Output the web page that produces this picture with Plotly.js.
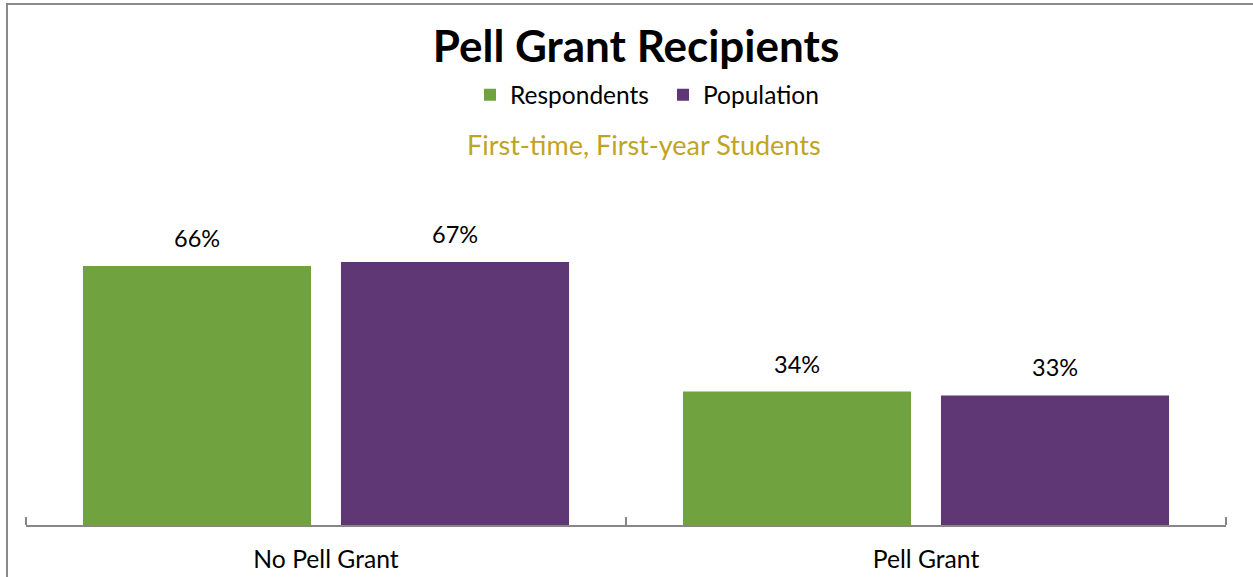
<!DOCTYPE html>
<html>
<head>
<meta charset="utf-8">
<script src="https://cdn.plot.ly/plotly-3.0.1.min.js"></script>
<style>
  html, body { margin: 0; padding: 0; background: #fff; }
  #wrap { position: relative; width: 1253px; height: 577px; overflow: hidden; }
  #chart { position: absolute; left: 0; top: 0; width: 1253px; height: 577px; }
  #frame { position: absolute; left: 6px; top: 3px; width: 1300px; height: 600px;
           border-left: 2px solid #8a8a8a; border-top: 2px solid #8a8a8a; pointer-events: none; }
</style>
</head>
<body>
<div id="wrap">
  <div id="chart"></div>
  <div id="frame"></div>
</div>
<script>
const categories = ["No Pell Grant", "Pell Grant"];
const respondents = [66, 34];
const population = [67, 33];
const seriesNames = ["Respondents", "Population"];
const colors = ["#70A33F", "#5E3774"];
const FONT = "Lato, 'Open Sans', sans-serif";

const traces = [
  { type: "bar", name: seriesNames[0], x: categories, y: respondents,
    marker: { color: colors[0] }, hoverinfo: "none" },
  { type: "bar", name: seriesNames[1], x: categories, y: population,
    marker: { color: colors[1] }, hoverinfo: "none" }
];

const annotations = [];
[respondents, population].forEach((vals, s) => {
  vals.forEach((v, i) => {
    annotations.push({
      x: categories[i], y: v, xref: "x", yref: "y",
      xshift: s === 0 ? -129 : 129, yshift: 12,
      yanchor: "bottom", showarrow: false,
      text: v + "%", font: { family: FONT, size: 23.5, color: "#000" }
    });
  });
});
annotations.push({
  x: 0.515, y: 1.213, xref: "paper", yref: "paper", showarrow: false,
  yanchor: "middle", text: "First-time, First-year Students",
  font: { family: FONT, size: 27, color: "#BFA51F" }
});

const edgeTick = (xp) => ({
  type: "line", xref: "paper", yref: "paper", x0: xp, x1: xp,
  ysizemode: "pixel", yanchor: 0, y0: 0, y1: 8,
  line: { color: "#878787", width: 2 }
});

const layout = {
  width: 1253, height: 577,
  margin: { l: 26, r: 27, t: 211, b: 52 },
  paper_bgcolor: "#fff", plot_bgcolor: "#fff",
  font: { family: FONT, color: "#000" },
  title: { text: "<b>Pell Grant Recipients</b>", x: 636 / 1253, xanchor: "center",
           y: 1 - 47 / 577, yref: "container", yanchor: "middle",
           font: { family: FONT, size: 44, color: "#000" } },
  barmode: "group", bargap: 0.14, bargroupgap: 0.116,
  showlegend: true,
  legend: { orientation: "h", x: (484 - 26 - 14) / 1200, xanchor: "left", y: 1.37, yanchor: "middle",
            entrywidth: 148,
            font: { family: FONT, size: 24.5, color: "#000" }, itemclick: false, traceorder: "normal" },
  xaxis: { type: "category", showline: true, linecolor: "#878787", linewidth: 2,
           ticks: "inside", tickson: "boundaries", ticklen: 8, tickcolor: "#878787", tickwidth: 2,
           ticklabelstandoff: 11,
           tickfont: { family: FONT, size: 24.7, color: "#000" }, showgrid: false, zeroline: false,
           fixedrange: true },
  yaxis: { range: [0, 80], visible: false, showgrid: false, zeroline: false, fixedrange: true },
  shapes: [edgeTick(0), edgeTick(1)],
  annotations: annotations
};

Plotly.newPlot("chart", traces, layout, { displayModeBar: false, staticPlot: true });
</script>
</body>
</html>
